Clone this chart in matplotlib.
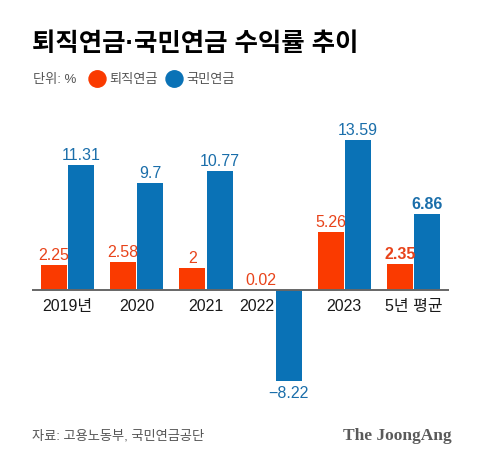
import matplotlib.pyplot as plt

plt.rcParams['font.family'] = ['Liberation Sans', 'Noto Sans CJK KR', 'DejaVu Sans']

categories = ["2019년", "2020", "2021", "2022", "2023", "5년 평균"]
retire = [2.25, 2.58, 2.0, 0.02, 5.26, 2.35]
national = [11.31, 9.7, 10.77, -8.22, 13.59, 6.86]
retire_lbl = ["2.25", "2.58", "2", "0.02", "5.26", "2.35"]
national_lbl = ["11.31", "9.7", "10.77", "−8.22", "13.59", "6.86"]

RED = "#FA3A00"
BLUE = "#0A72B6"
RED_T = "#E8431A"
BLUE_T = "#1A6EAA"

fig = plt.figure(figsize=(4.8, 4.64), dpi=100)
ax = fig.add_axes([32 / 480, 69 / 464, 417 / 480, 265 / 464])

w = 0.376
off = 0.199
x = list(range(len(categories)))
ax.bar([i - off for i in x], retire, width=w, color=RED)
ax.bar([i + off for i in x], national, width=w, color=BLUE)

for i in x:
    last = i == len(categories) - 1
    fw = 'bold' if last else 'normal'
    ax.annotate(retire_lbl[i], (i - off, max(retire[i], 0)), xytext=(0, 2),
                textcoords='offset points', ha='center', va='bottom',
                fontsize=11.5, color=RED_T, fontweight=fw)
    if national[i] >= 0:
        ax.annotate(national_lbl[i], (i + off, national[i]), xytext=(0, 2),
                    textcoords='offset points', ha='center', va='bottom',
                    fontsize=11.5, color=BLUE_T, fontweight=fw)
    else:
        ax.annotate(national_lbl[i], (i + off, national[i]), xytext=(0, -3),
                    textcoords='offset points', ha='center', va='top',
                    fontsize=11.5, color=BLUE_T)
    # category label under the axis (shifted left when the blue bar hangs below)
    tx = i - 0.27 if national[i] < 0 else i
    ax.annotate(categories[i], (tx, 0), xytext=(0, -6), textcoords='offset points',
                ha='center', va='top', fontsize=11.5, color="#1a1a1a")

ax.axhline(0, color="#666666", lw=1.4)
ax.set_xlim(-0.513, 5.513)
ax.set_ylim(-9.41, 14.57)
ax.axis('off')

fig.text(32 / 480, 1 - 44 / 464, "퇴직연금·국민연금 수익률 추이", fontsize=18.3,
         fontweight='heavy', color="#000000", va='center', ha='left',
         family=['Liberation Sans', 'Noto Sans CJK KR'])
fig.text(33 / 480, 1 - 80 / 464, "단위: %", fontsize=9.5, color="#555555",
         va='center', ha='left')
fig.patches.append(plt.Circle((97.5 / 480, 1 - 80 / 464), 8.5 / 480, color=RED,
                              transform=fig.transFigure, figure=fig))
fig.text(109 / 480, 1 - 80 / 464, "퇴직연금", fontsize=9.5, color="#555555",
         va='center', ha='left')
fig.patches.append(plt.Circle((174.5 / 480, 1 - 80 / 464), 8.5 / 480, color=BLUE,
                              transform=fig.transFigure, figure=fig))
fig.text(186 / 480, 1 - 80 / 464, "국민연금", fontsize=9.5, color="#555555",
         va='center', ha='left')

fig.text(32 / 480, 1 - 436 / 464, "자료: 고용노동부, 국민연금공단", fontsize=9.5,
         color="#555555", va='center', ha='left')
fig.text(452 / 480, 1 - 436 / 464, "The JoongAng", fontsize=12.5, fontweight='bold',
         color="#5a5a5a", va='center', ha='right', family=['Liberation Serif'])

fig.savefig("out.png", dpi=100)
